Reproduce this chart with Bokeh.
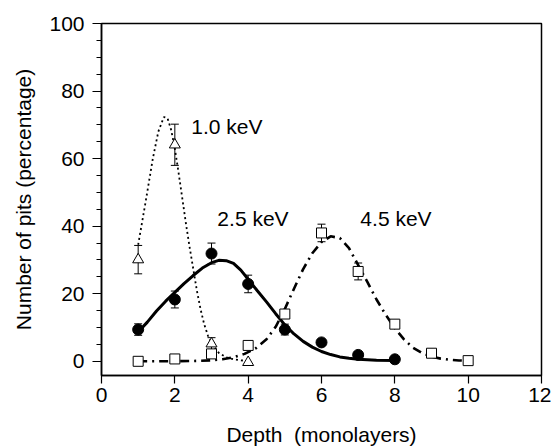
from bokeh.plotting import figure
from bokeh.models import ColumnDataSource, Whisker, TeeHead, FixedTicker, Range1d
from bokeh.core.properties import value
from bokeh.embed import file_html
from bokeh.resources import INLINE

FONT = "Liberation Sans"

# ---- measured data points ----
depth_tri = [1, 2, 3, 4]
pits_1keV = [30.1, 64.1, 5.2, -0.3]
err_1keV = [4.2, 6.1, 1.8, 0.0]

depth_circ = [1, 2, 3, 4, 5, 6, 7, 8]
pits_25keV = [9.4, 18.3, 31.9, 22.9, 9.4, 5.6, 1.9, 0.6]
err_25keV = [1.7, 2.5, 3.1, 2.6, 1.6, 0.0, 0.0, 0.0]

depth_sq = [1, 2, 3, 4, 5, 6, 7, 8, 9, 10]
pits_45keV = [0.0, 0.7, 2.2, 4.7, 14.0, 38.0, 26.6, 11.0, 2.4, 0.2]
err_45keV = [0.0, 0.0, 0.0, 0.0, 1.2, 2.6, 2.5, 0.0, 0.0, 0.0]

# ---- fitted curves ----
fit1_x = [1.0, 1.2, 1.4, 1.55, 1.7, 1.8, 1.9, 2.0, 2.1, 2.2, 2.3, 2.4, 2.5,
          2.6, 2.7, 2.8, 2.9, 3.0, 3.2, 3.4, 3.6, 3.8, 4.0]
fit1_y = [34.5, 47.0, 60.0, 68.0, 72.3, 72.0, 68.5, 63.0, 56.0, 48.5, 41.0,
          34.0, 27.5, 21.0, 15.5, 11.0, 7.7, 5.3, 2.5, 1.2, 0.6, 0.3, 0.1]

fit2_x = [1.0, 1.25, 1.5, 1.75, 2.0, 2.25, 2.5, 2.75, 3.0, 3.2, 3.4, 3.6,
          3.8, 4.0, 4.25, 4.5, 4.75, 5.0, 5.25, 5.5, 5.75, 6.0, 6.25, 6.5,
          6.75, 7.0, 7.5, 8.0]
fit2_y = [8.7, 11.6, 14.9, 17.8, 20.4, 23.0, 25.4, 27.6, 29.2, 29.9, 29.8,
          29.0, 27.0, 24.3, 20.9, 17.6, 14.1, 10.8, 8.1, 5.9, 4.2, 2.9, 2.0,
          1.3, 0.9, 0.6, 0.35, 0.25]

fit3_x = [1.0, 1.5, 2.0, 2.5, 3.0, 3.3, 3.6, 3.9, 4.2, 4.5, 4.75, 5.0, 5.25,
          5.5, 5.75, 6.0, 6.25, 6.5, 6.75, 7.0, 7.25, 7.5, 7.75, 8.0, 8.25,
          8.5, 8.75, 9.0, 9.25, 9.5, 9.75, 10.0]
fit3_y = [0.0, 0.0, 0.05, 0.1, 0.3, 0.6, 1.2, 2.2, 3.8, 6.5, 10.2, 15.5, 21.5,
          27.3, 32.0, 35.3, 37.0, 36.5, 33.5, 28.5, 23.5, 18.3, 13.8, 9.8,
          6.5, 4.0, 2.4, 1.4, 0.8, 0.45, 0.25, 0.15]

labels = ["1.0 keV", "2.5 keV", "4.5 keV"]
label_x = [2.45, 3.16, 7.06]
label_y = [69.4, 42.3, 42.3]

x_ticks = [0, 2, 4, 6, 8, 10, 12]
y_ticks = [0, 20, 40, 60, 80, 100]
y_minor = [5, 10, 15, 25, 30, 35, 45, 50, 55, 65, 70, 75, 85, 90, 95]

p = figure(frame_width=440, frame_height=352,
           min_border_left=101, min_border_right=10,
           min_border_top=23, min_border_bottom=72,
           x_range=Range1d(0, 12), y_range=Range1d(-4.2, 100),
           output_backend="svg", toolbar_location=None,
           background_fill_color="white", border_fill_color="white")

p.xgrid.visible = False
p.ygrid.visible = False
p.outline_line_color = "black"
p.outline_line_width = 1.5

for ax in (p.xaxis[0], p.yaxis[0]):
    ax.axis_line_width = 1.5
    ax.major_tick_line_width = 1.2
    ax.minor_tick_line_width = 1.2
    ax.major_tick_in = 0
    ax.minor_tick_in = 0
    ax.major_label_text_font = FONT
    ax.major_label_text_font_size = "21px"
    ax.major_label_text_color = "black"
    ax.axis_label_text_font = FONT
    ax.axis_label_text_font_size = "21px"
    ax.axis_label_text_font_style = "normal"
    ax.axis_label_text_color = "black"
    ax.axis_line_color = "black"
    ax.major_tick_line_color = "black"
    ax.minor_tick_line_color = "black"

p.xaxis.ticker = FixedTicker(ticks=x_ticks)
p.xaxis.major_tick_out = 8
p.xaxis.minor_tick_out = 0
p.xaxis.major_label_standoff = 4
p.xaxis.axis_label = "Depth\u00a0\u00a0(monolayers)"
p.xaxis.axis_label_standoff = 18

p.yaxis.ticker = FixedTicker(ticks=y_ticks, minor_ticks=y_minor)
p.yaxis.major_tick_out = 9
p.yaxis.minor_tick_out = 5
p.yaxis.major_label_standoff = 8
p.yaxis.axis_label = "Number of pits (percentage)"
p.yaxis.axis_label_standoff = 11

# fitted curves
p.line(fit1_x, fit1_y, line_color="black", line_width=1.8, line_dash="2 3")
p.line(fit2_x, fit2_y, line_color="black", line_width=3)
p.line(fit3_x, fit3_y, line_color="black", line_width=2.6, line_dash="9 5 2 5")

# error bars
def add_whisker(xs, ys, es):
    idx = [i for i, e in enumerate(es) if e > 0]
    src = ColumnDataSource(dict(
        x=[xs[i] for i in idx],
        lo=[ys[i] - es[i] for i in idx],
        hi=[ys[i] + es[i] for i in idx]))
    w = Whisker(source=src, base="x", lower="lo", upper="hi",
                line_color="black", line_width=1,
                upper_head=TeeHead(size=8, line_width=1, line_color="black"),
                lower_head=TeeHead(size=8, line_width=1, line_color="black"))
    p.add_layout(w)

add_whisker(depth_tri, pits_1keV, err_1keV)
add_whisker(depth_circ, pits_25keV, err_25keV)
add_whisker(depth_sq, pits_45keV, err_45keV)

# markers
p.scatter(depth_tri, pits_1keV, marker="triangle", size=11,
          fill_color="white", line_color="black", line_width=1)
p.scatter(depth_circ, pits_25keV, marker="circle", size=11,
          fill_color="black", line_color="black")
p.scatter(depth_sq, pits_45keV, marker="square", size=10,
          fill_color="white", line_color="black", line_width=1)

p.text(x=label_x, y=label_y, text=labels, text_font=value(FONT),
       text_font_size="21px", text_color="black",
       text_align="left", text_baseline="middle")

open("out.html", "w").write(file_html(p, INLINE))
